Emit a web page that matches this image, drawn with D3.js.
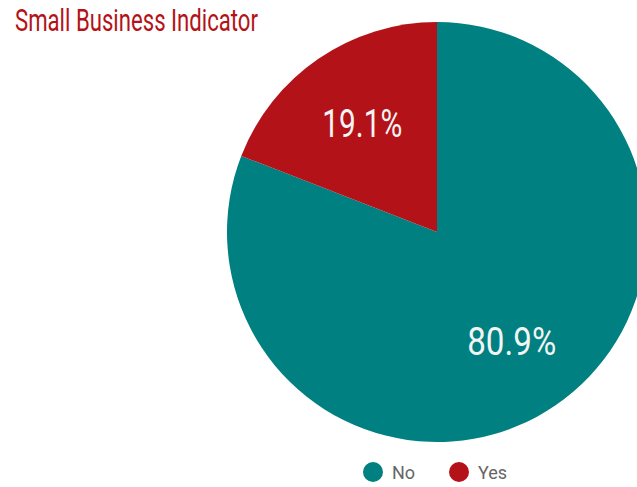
<!DOCTYPE html>
<meta charset="utf-8" />
<style>
  body { margin: 0; background: #fff; }
  svg { display: block; }
</style>
<body>
<script src="https://d3js.org/d3.v7.min.js"></script>
<script>
// chart data
var categories = ["No", "Yes"];
var shares = [80.9, 19.1];
var sliceLabels = ["80.9%", "19.1%"];
var colors = ["#008080", "#b31318"];

var width = 637, height = 487;
var cx = 437, cy = 232, radius = 210;

var svg = d3.select("body").append("svg")
    .attr("width", width)
    .attr("height", height);

// title
svg.append("text")
    .attr("x", 15)
    .attr("y", 31)
    .attr("textLength", 243)
    .attr("lengthAdjust", "spacingAndGlyphs")
    .style("font-family", "Roboto")
    .style("font-size", "31px")
    .style("fill", "#b31318")
    .text("Small Business Indicator");

var data = categories.map(function(c, i) {
  return {name: c, value: shares[i], label: sliceLabels[i], color: colors[i]};
});

var pie = d3.pie().sort(null).value(function(d) { return d.value; });
var arc = d3.arc().innerRadius(0).outerRadius(radius);
var labelArc = d3.arc().innerRadius(radius * 0.63).outerRadius(radius * 0.63);

var g = svg.append("g").attr("transform", "translate(" + cx + "," + cy + ")");

var slices = g.selectAll(".slice")
    .data(pie(data))
    .enter().append("g")
    .attr("class", "slice");

slices.append("path")
    .attr("d", arc)
    .attr("fill", function(d) { return d.data.color; });

slices.append("text")
    .attr("transform", function(d) { return "translate(" + labelArc.centroid(d) + ")"; })
    .attr("dy", "0.36em")
    .attr("text-anchor", "middle")
    .attr("textLength", function(d) { return d.data.label === "19.1%" ? 80 : 89; })
    .attr("lengthAdjust", "spacingAndGlyphs")
    .style("font-family", "Roboto")
    .style("font-size", "39px")
    .style("fill", "#f4f4f4")
    .text(function(d) { return d.data.label; });

// legend
var legendX = [373, 459];
var legend = svg.selectAll(".legend")
    .data(data)
    .enter().append("g")
    .attr("class", "legend")
    .attr("transform", function(d, i) { return "translate(" + legendX[i] + ",472)"; });

legend.append("circle")
    .attr("r", 10)
    .attr("fill", function(d) { return d.color; });

legend.append("text")
    .attr("x", 19)
    .attr("y", 6.5)
    .style("font-family", "Roboto")
    .style("font-size", "18px")
    .style("fill", "#666")
    .text(function(d) { return d.name; });
</script>
</body>
